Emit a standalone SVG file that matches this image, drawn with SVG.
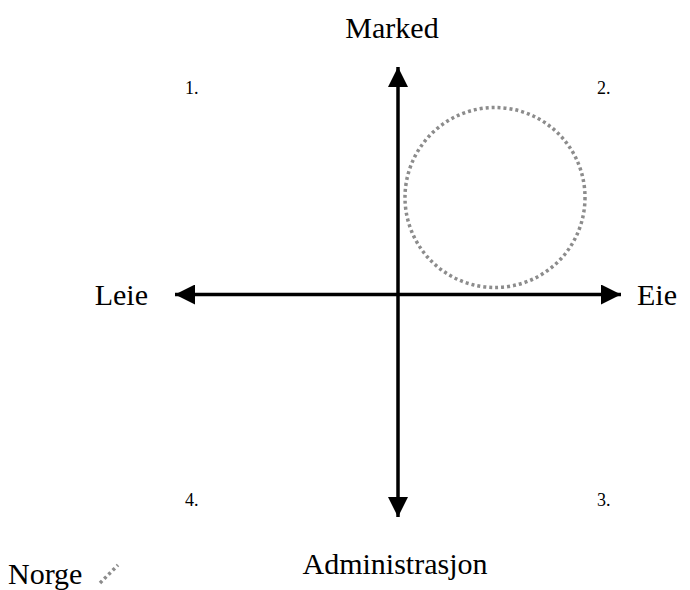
<svg xmlns="http://www.w3.org/2000/svg" width="690" height="590" viewBox="0 0 690 590">
<style>
.lbl{font-family:"Liberation Serif","Times New Roman",serif;font-size:30px;fill:#000}
.num{font-family:"Liberation Serif","Times New Roman",serif;font-size:18px;fill:#000}
.axis{stroke:#000;stroke-width:3.5;fill:none}
.dot{stroke:#8c8c8c;stroke-width:3.5;fill:none;stroke-dasharray:3 3}
</style>
<defs>
<marker id="ah" viewBox="0 0 10 10" refX="10" refY="5" markerWidth="20" markerHeight="20" markerUnits="userSpaceOnUse" orient="auto">
<path d="M0,0 L10,5 L0,10 z" fill="#000"/>
</marker>
</defs>
<rect width="690" height="590" fill="#fff"/>
<g id="connectors">
<line class="axis" x1="398" y1="294.5" x2="398" y2="67" marker-end="url(#ah)"/>
<line class="axis" x1="398" y1="294.5" x2="398" y2="517" marker-end="url(#ah)"/>
<line class="axis" x1="398" y1="294.5" x2="175" y2="294.5" marker-end="url(#ah)"/>
<line class="axis" x1="398" y1="294.5" x2="621" y2="294.5" marker-end="url(#ah)"/>
</g>
<g id="norge-circle"><circle class="dot" cx="495" cy="197.5" r="90"/></g>
<g id="marked"><text class="lbl" x="392" y="38" text-anchor="middle">Marked</text></g>
<g id="administrasjon"><text class="lbl" x="395" y="574" text-anchor="middle">Administrasjon</text></g>
<g id="leie"><text class="lbl" x="148" y="305" text-anchor="end">Leie</text></g>
<g id="eie"><text class="lbl" x="637" y="305">Eie</text></g>
<g id="q1"><text class="num" x="185" y="94">1.</text></g>
<g id="q2"><text class="num" x="597" y="94">2.</text></g>
<g id="q3"><text class="num" x="597" y="506">3.</text></g>
<g id="q4"><text class="num" x="185" y="506">4.</text></g>
<g id="legend">
<text class="lbl" x="8" y="584">Norge</text>
<line class="dot" x1="100" y1="583" x2="118" y2="565"/>
</g>
</svg>
